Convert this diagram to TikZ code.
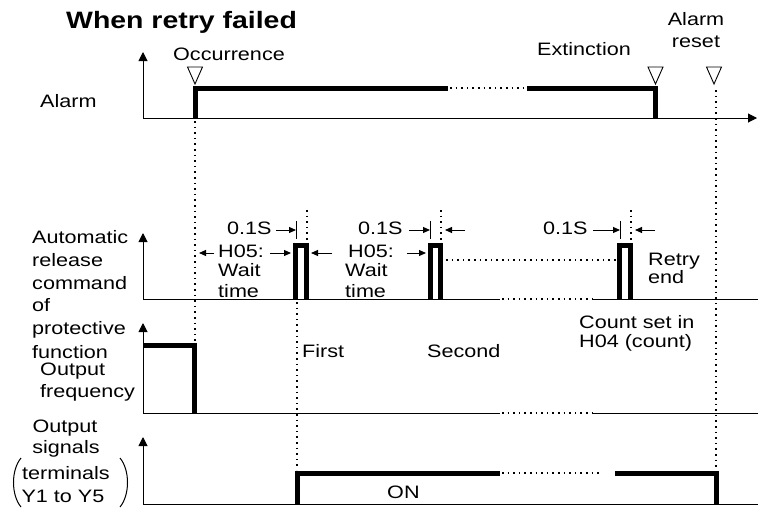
\documentclass[tikz,border=0pt]{standalone}
\usepackage{fontspec}
\setmainfont[FakeStretch=1.2]{Liberation Sans}
\usetikzlibrary{arrows.meta}
\begin{document}
\begin{tikzpicture}[x=1pt,y=-1pt,
  lbl/.style={font=\fontsize{18}{23}\selectfont, inner sep=0pt, anchor=base west},
  clbl/.style={font=\fontsize{18}{23}\selectfont, inner sep=0pt, anchor=base},
  thin/.style={line width=1pt},
  axarr/.style={line width=1pt,-{Triangle[length=9pt,width=9pt]}},
  sig/.style={line width=5pt, line join=miter},
  dots/.style={line width=1.6pt, dash pattern=on 1.6pt off 4pt},
  dim/.style={line width=1pt,-{Triangle[length=7pt,width=6pt]}},
  trimark/.style={line width=0.9pt, line join=miter}]
\useasboundingbox (0,0) rectangle (766,507);

% title
\node[anchor=base west, inner sep=0pt, font=\fontsize{23.7}{28}\selectfont\bfseries] (title) at (66,28) {When retry failed};

% ---------- Alarm ----------
\coordinate (a0) at (143,118);
\draw[axarr] (a0) -- (143,52);
\draw[axarr] (a0) -- (757,118);
\node[lbl] (alarm) at (40,107) {Alarm};
\node[clbl] (occ) at (229,60) {Occurrence};
\node[clbl] (ext) at (584,55) {Extinction};
\node[clbl] (ar1) at (696,25) {Alarm};
\node[clbl] (ar2) at (696,47) {reset};
\draw[trimark] (187.5,67) -- (202.5,67) -- (195,84) -- cycle;
\draw[trimark] (648,67) -- (663,67) -- (655.5,84) -- cycle;
\draw[trimark] (706.5,67) -- (721.5,67) -- (714,84) -- cycle;
\draw[sig] (195,118) -- (195,88) -- (448,88);
\draw[dots] (450,88) -- (526,88);
\draw[sig] (527,88) -- (655.5,88) -- (655.5,118);

% ---------- Automatic release ----------
\coordinate (r0) at (143,299);
\draw[axarr] (r0) -- (143,233);
\draw[thin] (r0) -- (500,299);
\draw[dots] (502,299) -- (592,299);
\draw[thin] (593,299) -- (758,299);
\node[lbl] (l1) at (32,243) {Automatic};
\node[lbl] (l2) at (32,266) {release};
\node[lbl] (l3) at (32,289) {command};
\node[lbl] (l4) at (32,311) {of};
\node[lbl] (l5) at (32,334) {protective};
\node[lbl] (l6) at (32,358) {function};
% pulses
\draw[sig] (295.5,299) -- (295.5,245) -- (306.5,245) -- (306.5,299);
\draw[sig] (430,299) -- (430,245) -- (440,245) -- (440,299);
\draw[sig] (619.5,299) -- (619.5,245) -- (630.5,245) -- (630.5,299);
\draw[dots] (307,210) -- (307,242);
\draw[dots] (441,210) -- (441,242);
\draw[dots] (631,210) -- (631,242);
\draw[dots] (446,260) -- (616,260);
% 0.1S
\node[lbl] (s1) at (227,234) {0.1S};
\node[lbl] (s2) at (358,234) {0.1S};
\node[lbl] (s3) at (543,234) {0.1S};
\draw[thin] (296,221) -- (296,239);
\draw[thin] (430,221) -- (430,239);
\draw[thin] (620,221) -- (620,239);
\draw[dim] (276,230) -- (296,230);
\draw[dim] (409,230) -- (430,230);
\draw[dim] (465,230) -- (445,230);
\draw[dim] (593,230) -- (620,230);
\draw[dim] (655,230) -- (635,230);
% H05 wait time
\node[lbl] (h1) at (218,257) {H05:};
\node[lbl] (w1) at (218,276) {Wait};
\node[lbl] (t1) at (218,297) {time};
\node[lbl] (h2) at (348,257) {H05:};
\node[lbl] (w2) at (345,276) {Wait};
\node[lbl] (t2) at (345,297) {time};
\draw[dim] (214,253) -- (199,253);
\draw[dim] (270,253) -- (291,253);
\draw[dim] (332,253) -- (311,253);
\draw[dim] (407,253) -- (426,253);
\node[lbl] (re1) at (648,265) {Retry};
\node[lbl] (re2) at (648,283) {end};
\node[lbl] (c1) at (579,328) {Count set in};
\node[lbl] (c2) at (579,347) {H04 (count)};
\node[lbl] (first) at (302,357) {First};
\node[lbl] (second) at (427,357) {Second};

% ---------- Output frequency ----------
\coordinate (f0) at (143,413);
\draw[axarr] (f0) -- (143,323);
\draw[thin] (f0) -- (500,413);
\draw[dots] (502,413) -- (592,413);
\draw[thin] (593,413) -- (758,413);
\node[lbl] (of1) at (40,375) {Output};
\node[lbl] (of2) at (40,397) {frequency};
\draw[sig] (143,345) -- (194,345) -- (194,413);

% ---------- Output signals ----------
\coordinate (o0) at (143,504);
\draw[axarr] (o0) -- (143,437);
\draw[thin] (o0) -- (758,504);
\node[clbl] (os1) at (65,432) {Output};
\node[clbl] (os2) at (66,453) {signals};
\node[clbl] (os3) at (66,479) {terminals};
\node[clbl] (os4) at (63,502) {Y1 to Y5};
\draw[thin] (21,458) .. controls (11,470) and (11,495) .. (21,507);
\draw[thin] (120,458) .. controls (130,470) and (130,495) .. (120,507);
\draw[sig] (297,504) -- (297,473) -- (500,473);
\draw[dots] (502,473) -- (602,473);
\draw[sig] (615,473) -- (716,473) -- (716,504);
\node[lbl] (on) at (387,498) {ON};

% ---------- vertical dotted guides ----------
\draw[dots] (195,121) -- (195,342);
\draw[dots] (297,302) -- (297,470);
\draw[dots] (716,90) -- (716,470);
\end{tikzpicture}
\end{document}
